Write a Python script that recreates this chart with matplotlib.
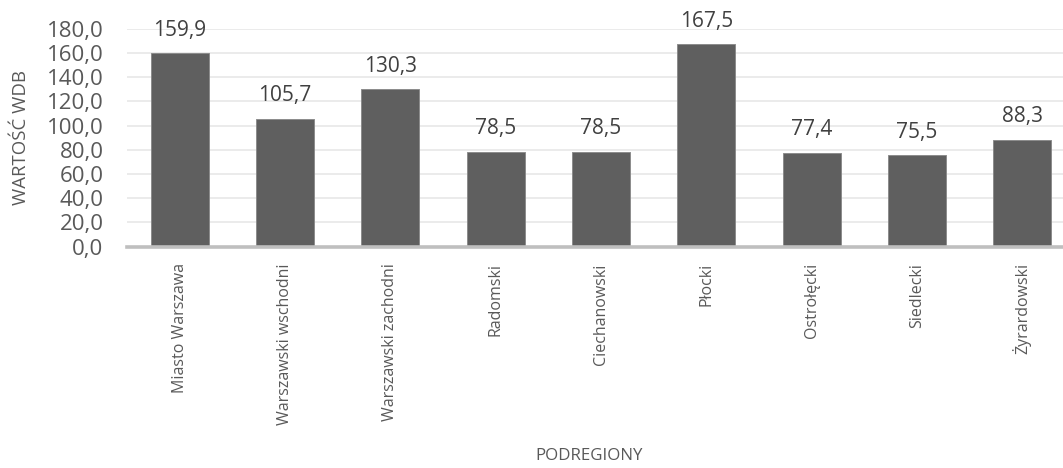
import matplotlib
matplotlib.use("Agg")
import matplotlib.pyplot as plt

categories = ["Miasto Warszawa", "Warszawski wschodni", "Warszawski zachodni", "Radomski",
              "Ciechanowski", "Płocki", "Ostrołęcki", "Siedlecki", "Żyrardowski"]
values = [159.9, 105.7, 130.3, 78.5, 78.5, 167.5, 77.4, 75.5, 88.3]
yticks = [0, 20, 40, 60, 80, 100, 120, 140, 160, 180]

plt.rcParams['font.family'] = ['Open Sans', 'DejaVu Sans']
txt = '#595959'

fig = plt.figure(figsize=(10.63, 4.68), dpi=100)
ax = fig.add_axes([127/1063, 1-246.5/468, (1075-127)/1063, (246.5-29)/468])

x = list(range(len(categories)))
ax.bar(x, values, width=0.55, color='#5f5f5f', edgecolor='#8c8c8c', linewidth=0.7, zorder=3)
for xi, v in zip(x, values):
    ax.annotate(f"{v:.1f}".replace('.', ','), (xi, v), xytext=(0, 9), textcoords='offset points',
                ha='center', va='bottom', fontsize=15, color='#404040', annotation_clip=False)

ax.set_ylim(0, 180)
ax.set_xlim(-0.5, len(categories) - 0.5)
ax.set_yticks(yticks)
ax.set_yticklabels([f"{t:.1f}".replace('.', ',') for t in yticks], fontsize=16, color=txt)
ax.set_xticks(x)
ax.set_xticklabels(categories, rotation=90, fontsize=11.5, color=txt, va='top')
ax.tick_params(axis='both', length=0)
ax.tick_params(axis='y', pad=17)
ax.tick_params(axis='x', pad=12)
ax.yaxis.grid(True, color='#e8e8e8', linewidth=1.2, zorder=0)
for s in ['top', 'right', 'left']:
    ax.spines[s].set_visible(False)
ax.spines['bottom'].set_color('#bfbfbf')
ax.spines['bottom'].set_linewidth(2.6)
ax.spines['bottom'].set_zorder(4)

ax.set_ylabel("WARTOŚĆ WDB", fontsize=13.4, color=txt)
ax.yaxis.set_label_coords((30-127)/948, 0.5)
fig.text(589/1063, 1-456/468, "PODREGIONY", ha='center', va='center', fontsize=12.2, color=txt)

fig.savefig("out.png", dpi=100)
